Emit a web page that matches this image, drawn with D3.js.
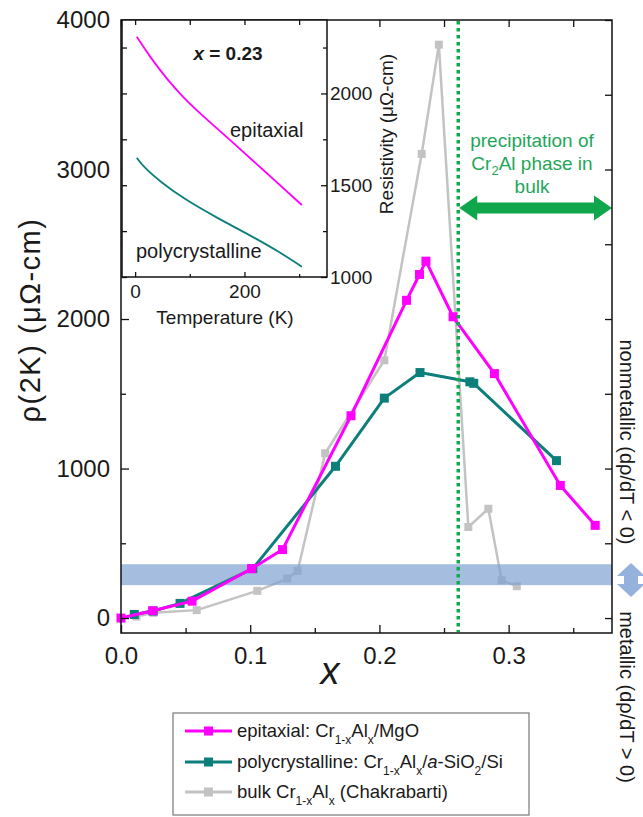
<!DOCTYPE html>
<html>
<head>
<meta charset="utf-8">
<script src="https://cdn.jsdelivr.net/npm/d3@7"></script>
<style>
  body { margin: 0; background: #fff; }
  svg text { font-family: "Liberation Sans", Arial, sans-serif; fill: #1a1a1a; }
</style>
</head>
<body>
<div class="chart"></div>
<script>
// main panel data: x (Al fraction) vs rho(2K)
var epiX  = [0, 0.0245, 0.055, 0.101, 0.125, 0.178, 0.221, 0.231, 0.236, 0.257, 0.289, 0.340, 0.367];
var epiR  = [0, 49, 113, 330, 458, 1353, 2125, 2298, 2387, 2015, 1635, 887, 620];
var polyX = [0.0103, 0.025, 0.0457, 0.102, 0.166, 0.2038, 0.2314, 0.270, 0.273, 0.337];
var polyR = [24, 47, 98, 331, 1015, 1471, 1642, 1580, 1570, 1053];
var bulkX = [0.012, 0.025, 0.0586, 0.1055, 0.1287, 0.1367, 0.158, 0.2038, 0.2327, 0.246, 0.2688, 0.2843, 0.2946, 0.3063];
var bulkR = [10, 35, 53, 182, 264, 315, 1102, 1724, 3104, 3835, 609, 731, 253, 213];

var xTicks = [0, 0.1, 0.2, 0.3];
var xMinor = [0.05, 0.15, 0.25, 0.35];
var yTicks = [0, 1000, 2000, 3000, 4000];
var yMinor = [500, 1500, 2500, 3500];

var bulkLimit = 0.261;        // Cr2Al precipitation boundary
var crossover = [220, 360];   // metallic / nonmetallic band

// inset: resistivity vs temperature at x = 0.23
var insetEpiT  = [3, 27, 58, 88, 119, 180, 241, 305];
var insetEpiR  = [2309, 2200, 2078, 1978, 1890, 1730, 1565, 1392];
var insetPolyT = [3, 15, 46, 88, 149, 210, 265, 305];
var insetPolyR = [1650, 1601, 1519, 1428, 1323, 1228, 1135, 1056];
var insetTTicks = [0, 200];
var insetTMinor = [100, 300];
var insetRTicks = [1000, 1500, 2000];
var insetRMinor = [1250, 1750, 2250];

var legendNames = ["epitaxial", "polycrystalline", "bulk"];

var colors = { epi: "#ff00ff", poly: "#0d7f7a", bulk: "#c3c3c3" };

var W = 643, H = 817;
var svg = d3.select("div.chart").append("svg")
  .attr("width", W).attr("height", H)
  .attr("viewBox", `0 0 ${W} ${H}`);

var x = d3.scaleLinear().domain([0, 0.38]).range([121, 612]);
var y = d3.scaleLinear().domain([-100, 4000]).range([633, 20]);

function series(xs, ys, color, lw, size, g) {
  var pts = xs.map(function(d, i){ return [x(d), y(ys[i])]; });
  g.append("path")
    .attr("d", d3.line()(pts))
    .attr("fill", "none").attr("stroke", color).attr("stroke-width", lw)
    .attr("stroke-linejoin", "round");
  g.selectAll(null).data(pts).enter().append("rect")
    .attr("x", function(d){ return d[0] - size/2; })
    .attr("y", function(d){ return d[1] - size/2; })
    .attr("width", size).attr("height", size)
    .attr("fill", color);
}

var plot = svg.append("g");
series(bulkX, bulkR, colors.bulk, 2.5, 8, plot);

plot.append("rect")
  .attr("x", x(0)).attr("width", x(0.38) - x(0))
  .attr("y", y(crossover[1])).attr("height", y(crossover[0]) - y(crossover[1]))
  .attr("fill", "#7fa3d3").attr("opacity", 0.7);

series(polyX, polyR, colors.poly, 3, 9, plot);
series(epiX, epiR, colors.epi, 3, 9, plot);

plot.append("line")
  .attr("x1", x(bulkLimit)).attr("x2", x(bulkLimit))
  .attr("y1", 21).attr("y2", 632)
  .attr("stroke", "#12a94e").attr("stroke-width", 3.5)
  .attr("stroke-dasharray", "3.5,3.5");

// green double arrow
var ay = 208, ax0 = x(bulkLimit) + 1, ax1 = 612, hl = 18, hh = 12.5, sh = 5.5;
svg.append("polygon")
  .attr("points", [
    [ax0, ay], [ax0 + hl, ay - hh], [ax0 + hl, ay - sh], [ax1 - hl, ay - sh], [ax1 - hl, ay - hh],
    [ax1, ay], [ax1 - hl, ay + hh], [ax1 - hl, ay + sh], [ax0 + hl, ay + sh], [ax0 + hl, ay + hh]
  ].join(" "))
  .attr("fill", "#10a64c");

var precip = svg.append("text").attr("text-anchor", "middle")
  .style("font-size", "19px").style("fill", "#1fa65a");
precip.append("tspan").attr("x", 532).attr("y", 147).text("precipitation of");
var l2 = precip.append("tspan").attr("x", 532).attr("y", 170);
l2.append("tspan").text("Cr");
l2.append("tspan").attr("dy", 5).style("font-size", "13px").text("2");
l2.append("tspan").attr("dy", -5).text("Al phase in");
precip.append("tspan").attr("x", 532).attr("y", 193).text("bulk");

// main axes
function styleAxis(g, fs) {
  g.select(".domain").remove();
  g.selectAll("line").attr("stroke", "#111").attr("stroke-width", 1.3);
  g.selectAll("text").style("font-size", fs).style("fill", "#1a1a1a")
    .style("font-family", "\"Liberation Sans\", Arial, sans-serif");
}
var gx = svg.append("g").attr("transform", "translate(0,633)")
  .call(d3.axisBottom(x).tickValues(xTicks).tickSize(-8).tickPadding(14).tickFormat(d3.format(".1f")));
styleAxis(gx, "24px");
styleAxis(svg.append("g").attr("transform", "translate(0,633)")
  .call(d3.axisBottom(x).tickValues(xMinor).tickSize(-5).tickFormat("")), "0px");
styleAxis(svg.append("g").attr("transform", "translate(0,20)")
  .call(d3.axisTop(x).tickValues(xTicks.concat(xMinor)).tickSize(-7).tickFormat("")), "0px");

var gy = svg.append("g").attr("transform", "translate(121,0)")
  .call(d3.axisLeft(y).tickValues(yTicks).tickSize(-8).tickPadding(11).tickFormat(d3.format("d")));
styleAxis(gy, "24px");
styleAxis(svg.append("g").attr("transform", "translate(121,0)")
  .call(d3.axisLeft(y).tickValues(yMinor).tickSize(-5).tickFormat("")), "0px");
styleAxis(svg.append("g").attr("transform", "translate(612,0)")
  .call(d3.axisRight(y).tickValues(yTicks.concat(yMinor)).tickSize(-7).tickFormat("")), "0px");

svg.append("rect")
  .attr("x", 121).attr("y", 20).attr("width", 491).attr("height", 613)
  .attr("fill", "none").attr("stroke", "#111").attr("stroke-width", 1.5);

svg.append("text")
  .attr("transform", "translate(40,320) rotate(-90)")
  .attr("text-anchor", "middle")
  .style("font-size", "29px").style("letter-spacing", "1.5px")
  .text("\u03c1(2K)  (\u03bc\u03a9-cm)");

svg.append("text").attr("x", 330).attr("y", 684).attr("text-anchor", "middle")
  .style("font-size", "38px").style("font-style", "italic").text("x");

// right-side annotation
svg.append("text")
  .attr("transform", "translate(627,442) rotate(90)")
  .attr("text-anchor", "middle").attr("dominant-baseline", "central")
  .style("font-size", "20px")
  .text("nonmetallic (d\u03c1/dT < 0)");
svg.append("text")
  .attr("transform", "translate(627,697) rotate(90)")
  .attr("text-anchor", "middle").attr("dominant-baseline", "central")
  .style("font-size", "20px")
  .text("metallic (d\u03c1/dT > 0)");

var dx = 631, dy = 580;
svg.append("polygon")
  .attr("points", [
    [dx, dy - 17], [dx + 14, dy - 4], [dx + 7, dy - 4], [dx + 7, dy + 4], [dx + 14, dy + 4],
    [dx, dy + 17], [dx - 14, dy + 4], [dx - 7, dy + 4], [dx - 7, dy - 4], [dx - 14, dy - 4]
  ].join(" "))
  .attr("fill", "#94b2dc");

// inset
var ix = d3.scaleLinear().domain([-24, 351]).range([122, 327]);
var iy = d3.scaleLinear().domain([1000, 2400]).range([277, 20]);
var inset = svg.append("g");
inset.append("rect").attr("x", 122).attr("y", 20).attr("width", 205).attr("height", 257)
  .attr("fill", "#fff");

var curve = d3.line().curve(d3.curveBasis)
  .x(function(d){ return ix(d[0]); }).y(function(d){ return iy(d[1]); });
inset.append("path")
  .attr("d", curve(insetEpiT.map(function(t, i){ return [t, insetEpiR[i]]; })))
  .attr("fill", "none").attr("stroke", colors.epi).attr("stroke-width", 1.8);
inset.append("path")
  .attr("d", curve(insetPolyT.map(function(t, i){ return [t, insetPolyR[i]]; })))
  .attr("fill", "none").attr("stroke", colors.poly).attr("stroke-width", 1.8);

styleAxis(inset.append("g").attr("transform", "translate(0,277)")
  .call(d3.axisBottom(ix).tickValues(insetTTicks).tickSize(-5).tickPadding(8)), "19px");
styleAxis(inset.append("g").attr("transform", "translate(0,277)")
  .call(d3.axisBottom(ix).tickValues(insetTMinor).tickSize(-3).tickFormat("")), "0px");
styleAxis(inset.append("g").attr("transform", "translate(0,20)")
  .call(d3.axisTop(ix).tickValues(insetTTicks.concat(insetTMinor)).tickSize(-5).tickFormat("")), "0px");
styleAxis(inset.append("g").attr("transform", "translate(327,0)")
  .call(d3.axisRight(iy).tickValues(insetRTicks).tickSize(-6).tickPadding(3).tickFormat(d3.format("d"))), "19px");
styleAxis(inset.append("g").attr("transform", "translate(327,0)")
  .call(d3.axisRight(iy).tickValues(insetRMinor).tickSize(-4).tickFormat("")), "0px");
styleAxis(inset.append("g").attr("transform", "translate(122,0)")
  .call(d3.axisLeft(iy).tickValues(insetRTicks.concat(insetRMinor)).tickSize(-5).tickFormat("")), "0px");

inset.append("rect").attr("x", 122).attr("y", 20).attr("width", 205).attr("height", 257)
  .attr("fill", "none").attr("stroke", "#111").attr("stroke-width", 1.5);

var xt = inset.append("text").attr("x", 228).attr("y", 60).attr("text-anchor", "middle")
  .style("font-size", "19px").style("font-weight", "bold");
xt.append("tspan").style("font-style", "italic").text("x");
xt.append("tspan").text(" = 0.23");
inset.append("text").attr("x", 230).attr("y", 137).style("font-size", "20px").text("epitaxial");
inset.append("text").attr("x", 136).attr("y", 258).style("font-size", "20px").text("polycrystalline");
inset.append("text").attr("x", 225).attr("y", 324).attr("text-anchor", "middle")
  .style("font-size", "19px").text("Temperature (K)");
inset.append("text")
  .attr("transform", "translate(386,134) rotate(-90)")
  .attr("text-anchor", "middle").attr("dominant-baseline", "central")
  .style("font-size", "19px").text("Resistivity (\u03bc\u03a9-cm)");

// legend
var leg = svg.append("g");
leg.append("rect").attr("x", 173).attr("y", 713).attr("width", 356).attr("height", 102)
  .attr("fill", "#fff").attr("stroke", "#777").attr("stroke-width", 1.2);
var rowY = [731, 762, 792];
var rowColor = [colors.epi, colors.poly, colors.bulk];
legendNames.forEach(function(name, i) {
  var ry = rowY[i];
  leg.append("line").attr("x1", 185).attr("x2", 232).attr("y1", ry).attr("y2", ry)
    .attr("stroke", rowColor[i]).attr("stroke-width", 3);
  leg.append("rect").attr("x", 204).attr("y", ry - 4.5).attr("width", 9).attr("height", 9)
    .attr("fill", rowColor[i]);
  var t = leg.append("text").attr("x", 237).attr("y", ry + 6).style("font-size", "18.5px");
  var pre = name === "epitaxial" ? "epitaxial: Cr" : name === "polycrystalline" ? "polycrystalline: Cr" : "bulk Cr";
  t.append("tspan").text(pre);
  t.append("tspan").attr("dy", 7).style("font-size", "12px").text("1-x");
  t.append("tspan").attr("dy", -7).text("Al");
  t.append("tspan").attr("dy", 7).style("font-size", "12px").text("x");
  if (name === "epitaxial") {
    t.append("tspan").attr("dy", -7).text("/MgO");
  } else if (name === "polycrystalline") {
    t.append("tspan").attr("dy", -7).text("/");
    t.append("tspan").style("font-style", "italic").text("a");
    t.append("tspan").text("-SiO");
    t.append("tspan").attr("dy", 7).style("font-size", "12px").text("2");
    t.append("tspan").attr("dy", -7).text("/Si");
  } else {
    t.append("tspan").attr("dy", -7).text(" (Chakrabarti)");
  }
});
</script>
</body>
</html>
